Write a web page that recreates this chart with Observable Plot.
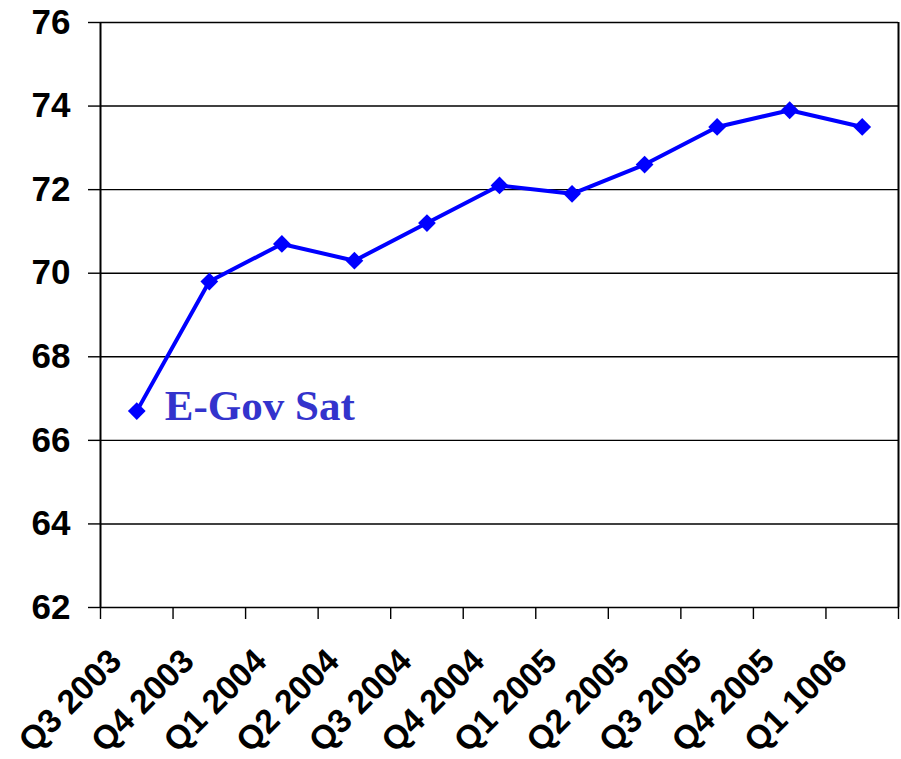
<!DOCTYPE html>
<html>
<head>
<meta charset="utf-8">
<script src="https://cdn.jsdelivr.net/npm/d3@7"></script>
<script src="https://cdn.jsdelivr.net/npm/@observablehq/plot@0.6"></script>
<style>
  html, body { margin: 0; padding: 0; background: #fff; }
  #chart svg { display: block; }
</style>
</head>
<body>
<div id="chart"></div>
<script>
// Quarterly E-Gov satisfaction index
const quarters = ["Q3 2003", "Q4 2003", "Q1 2004", "Q2 2004", "Q3 2004", "Q4 2004",
                  "Q1 2005", "Q2 2005", "Q3 2005", "Q4 2005", "Q1 1006"];
const scores = [66.7, 69.8, 70.7, 70.3, 71.2, 72.1, 71.9, 72.6, 73.5, 73.9, 73.5];
const yTicks = [62, 64, 66, 68, 70, 72, 74, 76];
const seriesName = "E-Gov Sat";

const data = quarters.map((q, i) => ({ q, i, pos: i + 0.5, v: scores[i] }));
const boundaries = d3.range(quarters.length + 1);
const labelFont = "'Liberation Sans', Arial, sans-serif";

const chart = Plot.plot({
  width: 901,
  height: 759,
  marginLeft: 100,
  marginRight: 3,
  marginTop: 22,
  marginBottom: 152,
  style: { fontFamily: labelFont, background: "#fff", overflow: "visible" },
  x: { type: "linear", domain: [0, quarters.length] },
  y: { domain: [62, 76] },
  marks: [
    Plot.ruleY(yTicks, { stroke: "#000", strokeWidth: 1.4, strokeOpacity: 1 }),
    Plot.ruleX([0, quarters.length], { stroke: "#000", strokeWidth: 2 }),
    Plot.axisY(yTicks, {
      tickSize: 12, tickPadding: 18, fontSize: 35, fontWeight: "bold",
      stroke: "#000", strokeWidth: 1.4, label: null
    }),
    Plot.axisX(boundaries, {
      tickSize: 12, tickFormat: () => "", stroke: "#000", strokeWidth: 1.4, label: null
    }),
    // rotated quarter labels below each category
    Plot.text(data, {
      x: "pos", y: () => 62, text: "q", rotate: -45, textAnchor: "end",
      lineAnchor: "middle", dx: -21, dy: 48, fontSize: 33.5, fontWeight: "bold",
      fill: "#000"
    }),
    Plot.line(data, { x: "pos", y: "v", stroke: "#0000ff", strokeWidth: 4 }),
    Plot.dot(data, { x: "pos", y: "v", symbol: "diamond2", r: 8, fill: "#0000ff", stroke: "none" }),
    Plot.text([data[0]], {
      x: "pos", y: "v", text: () => seriesName, textAnchor: "start",
      dx: 28, dy: -5, fontSize: 43, fontWeight: "bold",
      fontFamily: "'Liberation Serif', 'Times New Roman', serif", fill: "#3333cc"
    })
  ]
});

document.getElementById("chart").appendChild(chart);
</script>
</body>
</html>
